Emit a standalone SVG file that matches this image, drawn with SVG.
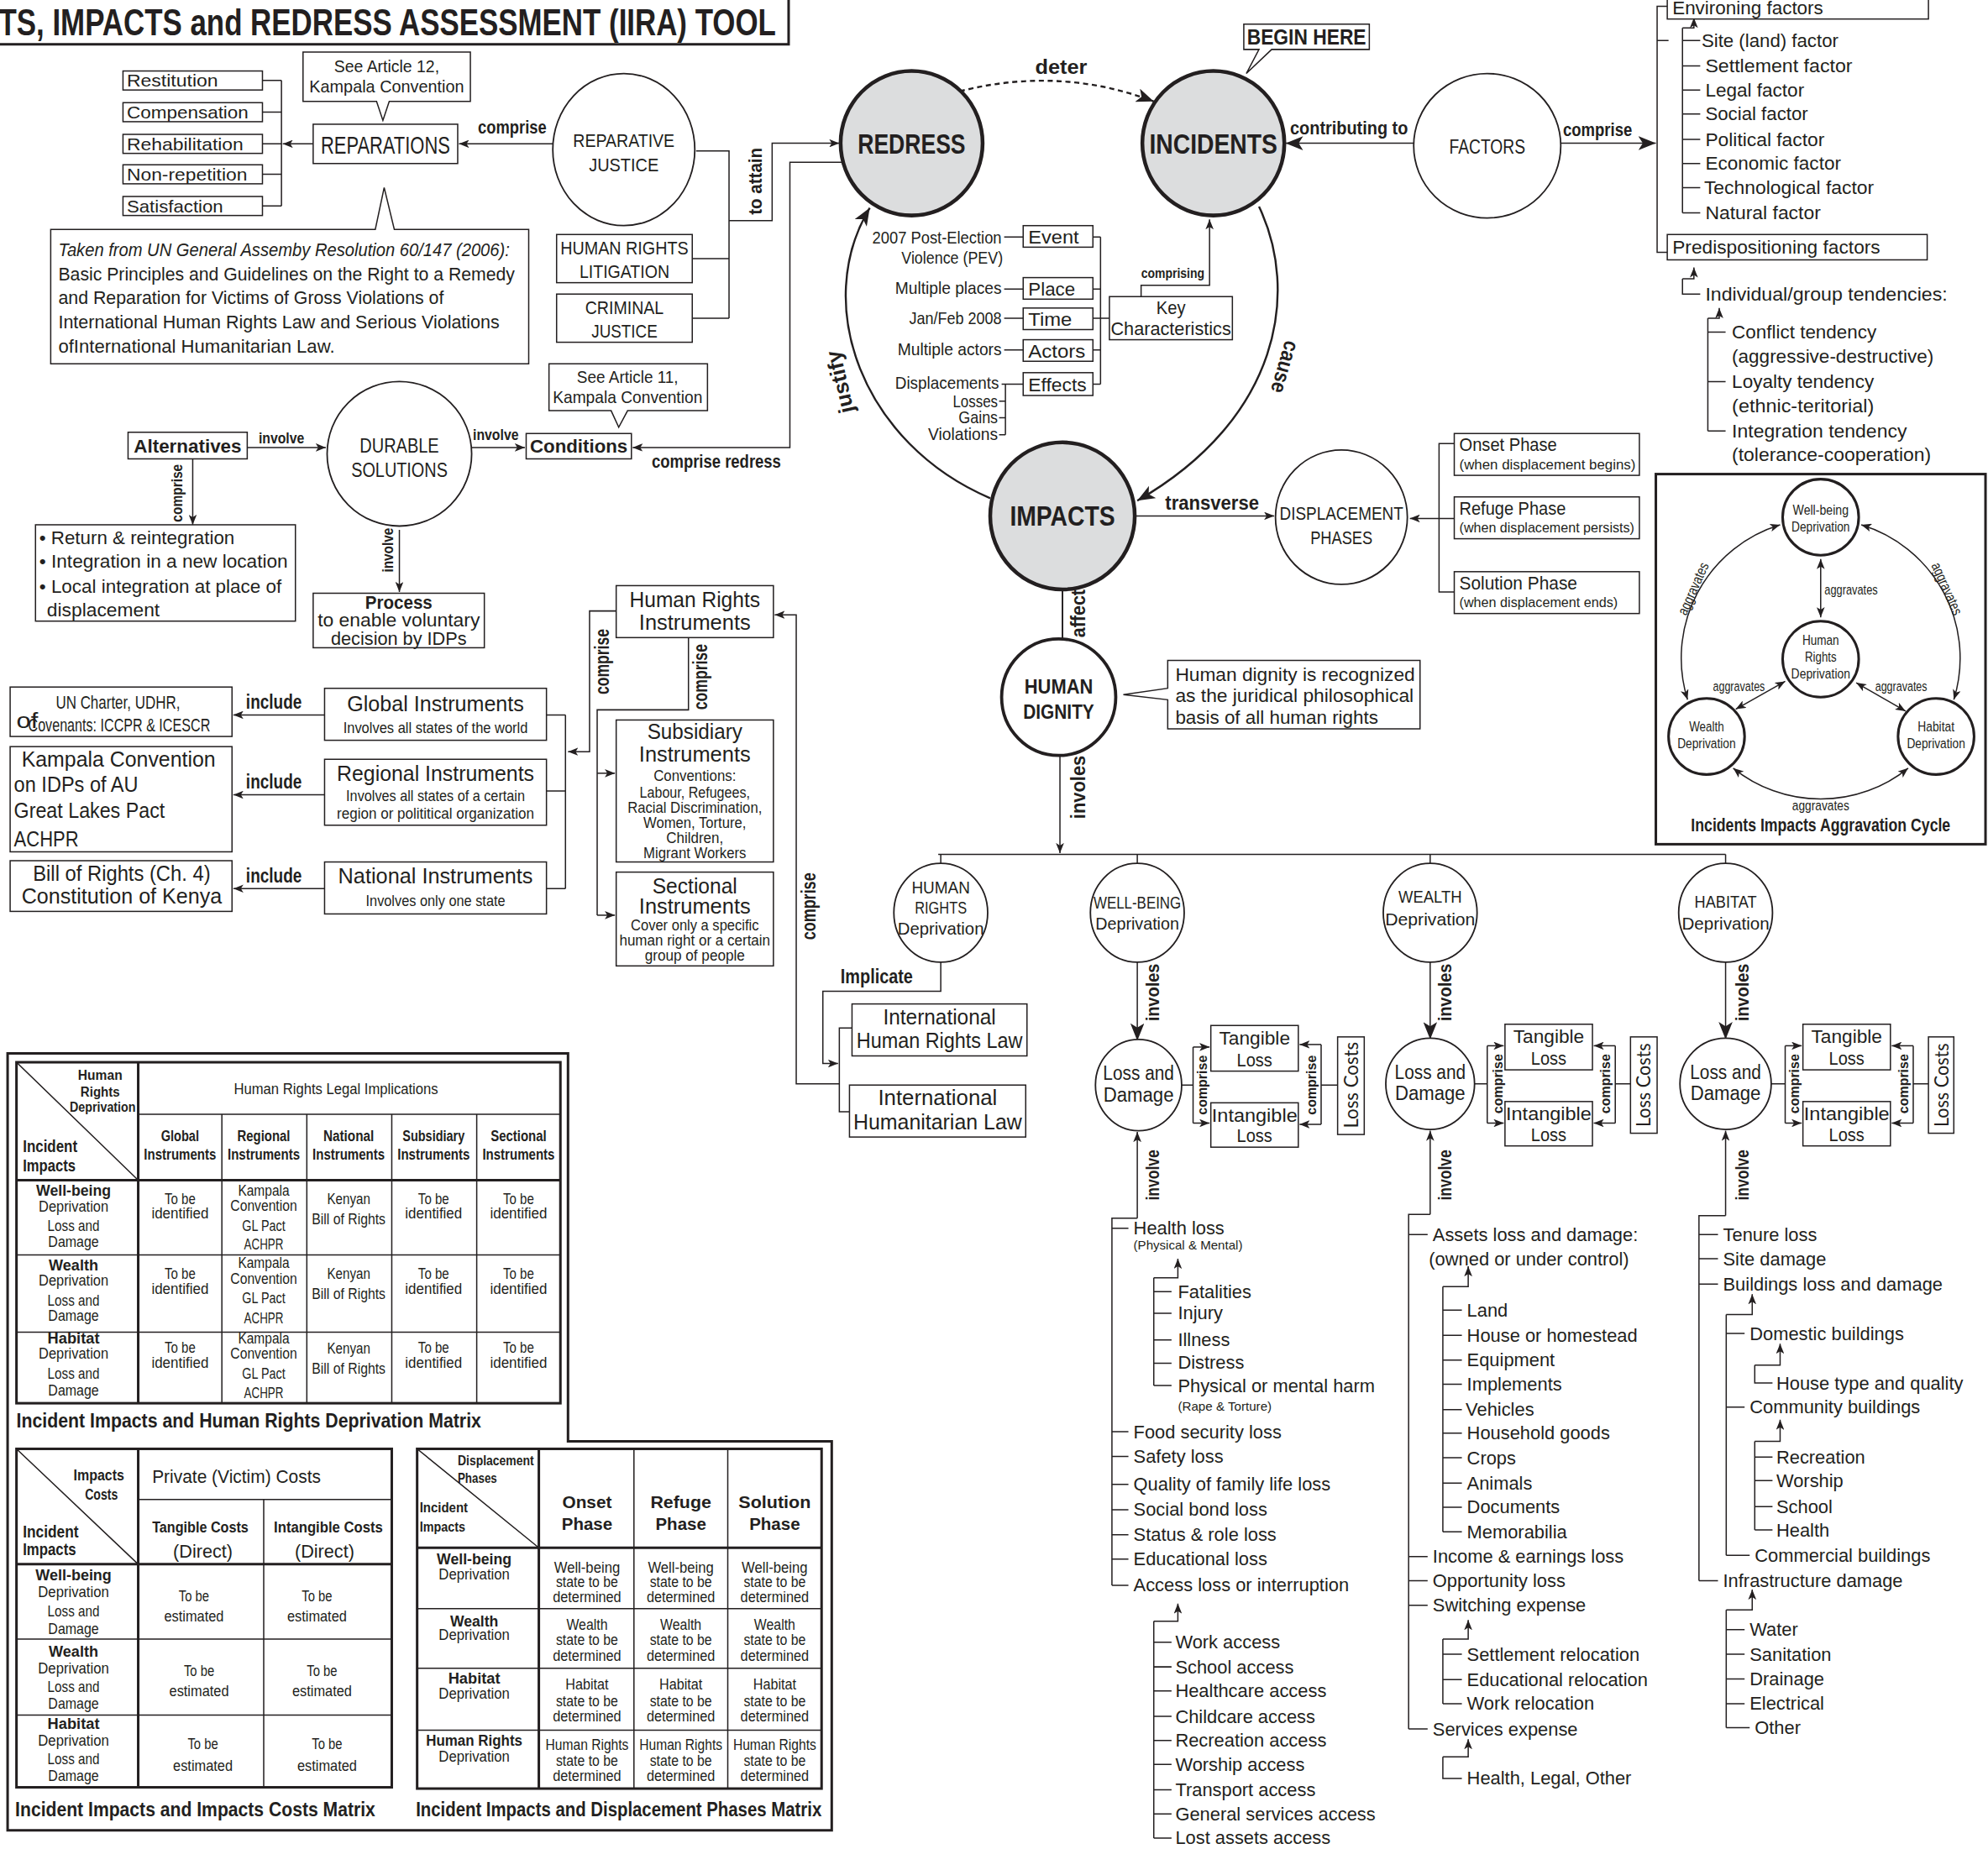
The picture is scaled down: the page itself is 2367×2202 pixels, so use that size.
<svg xmlns="http://www.w3.org/2000/svg" width="2367" height="2202" viewBox="0 0 2367 2202">
<defs>
<style>
text{font-family:'Liberation Sans',Arial,sans-serif;fill:#231f20}
.b{font-weight:bold}
.i{font-style:italic}
.m{text-anchor:middle}
.e{text-anchor:end}
.g{font-family:Lato,'Open Sans',sans-serif}
.ln{fill:none;stroke:#231f20;stroke-width:1}
.th{fill:none;stroke:#231f20;stroke-width:2}
.bx{fill:#fff;stroke:#231f20;stroke-width:1}
.nd{fill:#fff;stroke:#231f20;stroke-width:1.2}
.gr{fill:#dcddde;stroke:#231f20;stroke-width:3}
.ar{marker-end:url(#a)}
.AR{marker-end:url(#A)}
.dd{marker-start:url(#d);marker-end:url(#d)}
</style>
<marker id="a" viewBox="0 0 10 8" refX="10" refY="4" markerWidth="8" markerHeight="6.4" orient="auto" markerUnits="userSpaceOnUse"><path d="M0,0 L10,4 L0,8 L2.5,4 Z" fill="#231f20"/></marker>
<marker id="A" viewBox="0 0 10 8" refX="10" refY="4" markerWidth="14" markerHeight="11" orient="auto" markerUnits="userSpaceOnUse"><path d="M0,0 L10,4 L0,8 L2.5,4 Z" fill="#231f20"/></marker>
<marker id="d" viewBox="0 0 10 8" refX="10" refY="4" markerWidth="8" markerHeight="6.4" orient="auto-start-reverse" markerUnits="userSpaceOnUse"><path d="M0,0 L10,4 L0,8 L2.5,4 Z" fill="#231f20"/></marker>
</defs>
<rect width="2367" height="2202" fill="#fff"/>
<g transform="scale(1.5096)" font-size="14">

<g id="connectors" class="ln">
<path d="M207,63.5H222M207,88.5H222M207,113.5H222M207,137.5H222M207,162.5H222M222,63.5V162.5"/>
<path class="ar" d="M247,113.5H223"/>
<path class="ar" d="M436,113.5H362"/>
<path d="M549,119H575V251M546,204H575M546,251H575"/>
<path class="ar" d="M575,174H609V113H662"/>
<path class="ar" d="M665,128H623V353H499"/>
<path class="AR" d="M757,72Q836,52 910,80" stroke-dasharray="4,3" stroke-width="1.6"/>
<path class="AR" d="M1115,113H1014"/>
<path class="AR" d="M1231,113H1306"/>
<path d="M1315,5H1307V199H1315M1307,32H1316"/>
<path class="ar" d="M1327,22H1336V14"/>
<path d="M1327,22V168M1327,32H1341M1327,52H1341M1327,71H1341M1327,90H1341M1327,110H1341M1327,129H1341M1327,148H1341M1327,168H1341"/>
<path class="ar" d="M1327,220H1336V211"/>
<path d="M1327,220V232H1341"/>
<path class="ar" d="M1347,251H1356V243"/>
<path d="M1347,251V340M1347,262H1361M1347,301H1361M1347,340H1361"/>
<path d="M792,187H807M792,228H807M792,251H807M792,276H807M790,303H807M793,303V343M788,316.5H793M788,329.6H793M788,343H793"/>
<path d="M862,187H868M862,228H868M862,251H868M862,276H868M862,303H868M868,187V303M868,251H875"/>
<path class="ar" d="M900,234V225H954V173"/>
<path class="AR" d="M781,393C680,350 640,240 686,164" stroke-width="1.6"/>
<path class="AR" d="M993,163C1025,230 1010,330 897,395" stroke-width="1.6"/>
<path class="ar" d="M895,407H1005"/>
<path d="M1147,350H1135V467H1147M1135,409H1147"/>
<path class="ar" d="M1135,409H1112"/>
<path d="M838,465V505" stroke-width="1.3"/>
<path class="ar" d="M836,596V673"/>
<path d="M740,674H1361M742,674V681M897,674V681M1128,674V681M1361,674V681"/>
<path class="ar" d="M742,759V782H649V839H661"/>
<path d="M672,811H662V877H672"/>
<path class="ar" d="M662,855H628V485H611"/>
<path class="AR" d="M897,759V821"/>
<path class="AR" d="M1128,759V820"/>
<path class="AR" d="M1361,759V820"/>
<path d="M932,856H941M941,826V886"/>
<path class="ar" d="M941,826H954"/><path class="ar" d="M941,886H954"/>
<path d="M1055,856H1042M1042,824V887"/>
<path class="ar" d="M1042,824H1025"/><path class="ar" d="M1042,887H1025"/>
<path d="M1163,855H1173M1173,825V886"/>
<path class="ar" d="M1173,825H1186"/><path class="ar" d="M1173,886H1186"/>
<path d="M1286,855H1274M1274,825V886"/>
<path class="ar" d="M1274,825H1257"/><path class="ar" d="M1274,886H1257"/>
<path d="M1397,855H1408M1408,825V886"/>
<path class="ar" d="M1408,825H1421"/><path class="ar" d="M1408,886H1421"/>
<path d="M1521,855H1509M1509,825V886"/>
<path class="ar" d="M1509,825H1492"/><path class="ar" d="M1509,886H1492"/>
<path class="ar" d="M897,961V893"/>
<path d="M897,961H877V1250.6"/>
<path d="M877,969H890M877,1129.5H890M877,1149H890M877,1171H890M877,1191H890M877,1210.7H890M877,1230H890M877,1250.6H890"/>
<path class="ar" d="M910,1008H929V993"/>
<path d="M910,1008V1093M910,1019H924M910,1036H924M910,1057H924M910,1075.5H924M910,1093H924"/>
<path class="ar" d="M910,1279H929V1265"/>
<path d="M910,1279V1450M910,1295.5H924M910,1315H924M910,1334H924M910,1354H924M910,1373H924M910,1392H924M910,1412H924M910,1431H924M910,1450H924"/>
<path class="ar" d="M1128,958V892"/>
<path d="M1128,958H1111V1364M1111,974H1126M1111,1228H1126M1111,1247H1126M1111,1266.4H1126M1111,1364H1126"/>
<path class="ar" d="M1138,1015H1158V999"/>
<path d="M1138,1015V1208.5M1138,1033.6H1153M1138,1053.5H1153M1138,1073H1153M1138,1092H1153M1138,1112H1153M1138,1130.6H1153M1138,1150H1153M1138,1170H1153M1138,1189H1153M1138,1208.5H1153"/>
<path class="ar" d="M1138,1293H1158V1278"/>
<path d="M1138,1293V1344M1138,1305H1153M1138,1325H1153M1138,1344H1153"/>
<path class="ar" d="M1138,1386H1158V1372"/>
<path d="M1138,1386V1403H1153"/>
<path class="ar" d="M1361,959V892"/>
<path d="M1361,959H1340V1247M1340,974H1355M1340,993H1355M1340,1013H1355M1340,1247H1355"/>
<path class="ar" d="M1361.5,1037H1382V1021"/>
<path d="M1361.5,1037V1227M1361.5,1052H1376M1361.5,1110H1376M1361.5,1227H1380"/>
<path class="ar" d="M1384,1077H1404V1060"/>
<path d="M1384,1077V1091H1398"/>
<path class="ar" d="M1384,1137H1404V1120"/>
<path d="M1384,1137V1207M1384,1149.5H1398M1384,1168H1398M1384,1188.5H1398M1384,1207H1398"/>
<path class="ar" d="M1361.5,1270H1382V1254"/>
<path d="M1361.5,1270V1363M1361.5,1285.6H1376M1361.5,1305H1376M1361.5,1324.6H1376M1361.5,1344H1376M1361.5,1363H1380"/>
<path class="ar" d="M195,353H257"/>
<path class="ar" d="M372,353H414"/>
<path class="ar" d="M152,362V414"/>
<path class="ar" d="M315,418V467"/>
<path class="ar" d="M486,482H465V593H448"/>
<path d="M543,503V560H471V722"/>
<path class="ar" d="M471,610H485"/><path class="ar" d="M471,722H485"/>
<path d="M431,564H446M431,624H446M431,701H446M446,564V701"/>
<path class="ar" d="M256,564H184"/><path class="ar" d="M256,627H184"/><path class="ar" d="M256,701H184"/>
<path class="dd" d="M1436,441V487"/>
<path class="dd" d="M1408,537.5L1369,559.5"/>
<path class="dd" d="M1464,538.6L1503,561"/>
<path class="dd" d="M1404,414A110,110 0 0 0 1331,552"/>
<path class="dd" d="M1468,414A110,110 0 0 1 1541,552"/>
<path class="dd" d="M1367,606A110,110 0 0 0 1505,606"/>
</g>

<g id="title"><path class="th" d="M-5,35H622V-5"/><text x="-1" y="28" class="b" font-size="29" textLength="613" lengthAdjust="spacingAndGlyphs">TS, IMPACTS and REDRESS ASSESSMENT (IIRA) TOOL</text></g>

<g id="reparation-list" font-size="14">
<rect class="bx" x="97" y="56" width="110" height="15"/><text x="100" y="68.5" textLength="72" lengthAdjust="spacingAndGlyphs">Restitution</text>
<rect class="bx" x="97" y="81" width="110" height="15"/><text x="100" y="93.5" textLength="96" lengthAdjust="spacingAndGlyphs">Compensation</text>
<rect class="bx" x="97" y="106" width="110" height="15"/><text x="100" y="118.5" textLength="92" lengthAdjust="spacingAndGlyphs">Rehabilitation</text>
<rect class="bx" x="97" y="130" width="110" height="15"/><text x="100" y="142.5" textLength="95" lengthAdjust="spacingAndGlyphs">Non-repetition</text>
<rect class="bx" x="97" y="155" width="110" height="15"/><text x="100" y="167.5" textLength="76" lengthAdjust="spacingAndGlyphs">Satisfaction</text>
</g>
<g id="art12"><path class="bx" d="M239,41H371V80H307L302,95L297,80H239Z"/><text x="305" y="57" class="m" textLength="83" lengthAdjust="spacingAndGlyphs">See Article 12,</text><text x="305" y="73" class="m" textLength="122" lengthAdjust="spacingAndGlyphs">Kampala Convention</text></g>
<g id="reparations"><rect class="bx" x="247" y="98" width="114" height="31"/><text x="304" y="121" class="m" font-size="19" textLength="102" lengthAdjust="spacingAndGlyphs">REPARATIONS</text></g>
<text x="404" y="105" class="b m" font-size="14.5" textLength="54" lengthAdjust="spacingAndGlyphs">comprise</text>
<g id="reparative"><ellipse class="nd" cx="492" cy="118" rx="56" ry="60"/><text x="492" y="116" class="m" font-size="15" textLength="80" lengthAdjust="spacingAndGlyphs">REPARATIVE</text><text x="492" y="135" class="m" font-size="15" textLength="55" lengthAdjust="spacingAndGlyphs">JUSTICE</text></g>
<g id="resolution" font-size="14.5"><path class="bx" d="M40,181H296L303,148L311,181H417V287H40Z"/>
<text x="46" y="202" class="i" textLength="356" lengthAdjust="spacingAndGlyphs">Taken from UN General Assemby Resolution 60/147 (2006):</text>
<text x="46" y="221" textLength="360" lengthAdjust="spacingAndGlyphs">Basic Principles and Guidelines on the Right to a Remedy</text>
<text x="46" y="240" textLength="304" lengthAdjust="spacingAndGlyphs">and Reparation for Victims of Gross Violations of</text>
<text x="46" y="259" textLength="348" lengthAdjust="spacingAndGlyphs">International Human Rights Law and Serious Violations</text>
<text x="46" y="278" textLength="218" lengthAdjust="spacingAndGlyphs">ofInternational Humanitarian Law.</text></g>
<g id="hrlit" font-size="15"><rect class="bx" x="439" y="185" width="107" height="38"/><text x="492.5" y="201" class="m" textLength="101" lengthAdjust="spacingAndGlyphs">HUMAN RIGHTS</text><text x="492.5" y="219" class="m" textLength="71" lengthAdjust="spacingAndGlyphs">LITIGATION</text></g>
<g id="crim" font-size="15"><rect class="bx" x="439" y="232" width="107" height="38"/><text x="492.5" y="248" class="m" textLength="62" lengthAdjust="spacingAndGlyphs">CRIMINAL</text><text x="492.5" y="266" class="m" textLength="52" lengthAdjust="spacingAndGlyphs">JUSTICE</text></g>
<text transform="translate(601,143) rotate(-90)" class="b m" font-size="15" textLength="53" lengthAdjust="spacingAndGlyphs">to attain</text>

<g id="redress"><ellipse class="gr" cx="719" cy="113" rx="56" ry="57"/><text x="719" y="121" class="b m" font-size="22" textLength="85" lengthAdjust="spacingAndGlyphs">REDRESS</text></g>
<g id="incidents"><ellipse class="gr" cx="957" cy="113" rx="56" ry="57"/><text x="957" y="121" class="b m" font-size="22" textLength="101" lengthAdjust="spacingAndGlyphs">INCIDENTS</text></g>
<text x="837" y="58" class="b m" font-size="16" textLength="41" lengthAdjust="spacingAndGlyphs">deter</text>
<g id="begin"><path class="bx" d="M981,19H1080V39H1003L983,58L993,39H981Z"/><text x="1030.5" y="35" class="b m" font-size="17" textLength="94" lengthAdjust="spacingAndGlyphs">BEGIN HERE</text></g>
<g id="factors"><ellipse class="nd" cx="1173" cy="115" rx="58" ry="57"/><text x="1173" y="121" class="m" font-size="16" textLength="60" lengthAdjust="spacingAndGlyphs">FACTORS</text></g>
<text x="1064" y="106" class="b m" font-size="14.5" textLength="93" lengthAdjust="spacingAndGlyphs">contributing to</text>
<text x="1260" y="107" class="b m" font-size="14.5" textLength="54.5" lengthAdjust="spacingAndGlyphs">comprise</text>
<g id="factor-list" font-size="15">
<rect class="bx" x="1315" y="-5" width="206" height="20"/><text x="1319" y="11" textLength="119" lengthAdjust="spacingAndGlyphs">Environing factors</text>
<rect class="bx" x="1315" y="185" width="205" height="20"/><text x="1319" y="200" textLength="164" lengthAdjust="spacingAndGlyphs">Predispositioning factors</text>
<text x="1342" y="37" textLength="108" lengthAdjust="spacingAndGlyphs">Site (land) factor</text>
<text x="1345" y="57" textLength="116" lengthAdjust="spacingAndGlyphs">Settlement factor</text>
<text x="1345" y="76" textLength="78" lengthAdjust="spacingAndGlyphs">Legal factor</text>
<text x="1345" y="95" textLength="81" lengthAdjust="spacingAndGlyphs">Social factor</text>
<text x="1345" y="115" textLength="94" lengthAdjust="spacingAndGlyphs">Political factor</text>
<text x="1345" y="134" textLength="107" lengthAdjust="spacingAndGlyphs">Economic factor</text>
<text x="1344" y="153" textLength="134" lengthAdjust="spacingAndGlyphs">Technological factor</text>
<text x="1345" y="173" textLength="91" lengthAdjust="spacingAndGlyphs">Natural factor</text>
<text x="1345" y="237" textLength="191" lengthAdjust="spacingAndGlyphs">Individual/group tendencies:</text>
<text x="1366" y="267" textLength="114" lengthAdjust="spacingAndGlyphs">Conflict tendency</text>
<text x="1366" y="286" textLength="159" lengthAdjust="spacingAndGlyphs">(aggressive-destructive)</text>
<text x="1366" y="306" textLength="112" lengthAdjust="spacingAndGlyphs">Loyalty tendency</text>
<text x="1366" y="325" textLength="112" lengthAdjust="spacingAndGlyphs">(ethnic-teritorial)</text>
<text x="1366" y="345" textLength="138" lengthAdjust="spacingAndGlyphs">Integration tendency</text>
<text x="1366" y="364" textLength="157" lengthAdjust="spacingAndGlyphs">(tolerance-cooperation)</text>
</g>

<g id="key-labels" font-size="13.5">
<text x="790" y="192" class="e" textLength="102" lengthAdjust="spacingAndGlyphs">2007 Post-Election</text>
<text x="791" y="208" class="e" textLength="80" lengthAdjust="spacingAndGlyphs">Violence (PEV)</text>
<text x="790" y="232" class="e" textLength="84" lengthAdjust="spacingAndGlyphs">Multiple places</text>
<text x="790" y="256" class="e" textLength="73" lengthAdjust="spacingAndGlyphs">Jan/Feb 2008</text>
<text x="790" y="280" class="e" textLength="82" lengthAdjust="spacingAndGlyphs">Multiple actors</text>
<text x="788" y="307" class="e" textLength="82" lengthAdjust="spacingAndGlyphs">Displacements</text>
<text x="787" y="321" class="e" textLength="35.5" lengthAdjust="spacingAndGlyphs">Losses</text>
<text x="787" y="334" class="e" textLength="31" lengthAdjust="spacingAndGlyphs">Gains</text>
<text x="787" y="347" class="e" textLength="55" lengthAdjust="spacingAndGlyphs">Violations</text>
</g>
<g id="key-boxes" font-size="15">
<rect class="bx" x="807" y="178" width="55" height="17"/><text x="811" y="192" textLength="40" lengthAdjust="spacingAndGlyphs">Event</text>
<rect class="bx" x="807" y="219" width="55" height="17"/><text x="811" y="233" textLength="37" lengthAdjust="spacingAndGlyphs">Place</text>
<rect class="bx" x="807" y="243" width="55" height="17"/><text x="811" y="257" textLength="34.5" lengthAdjust="spacingAndGlyphs">Time</text>
<rect class="bx" x="807" y="268" width="55" height="17"/><text x="811" y="282" textLength="45" lengthAdjust="spacingAndGlyphs">Actors</text>
<rect class="bx" x="807" y="294" width="55" height="18"/><text x="811" y="309" textLength="46" lengthAdjust="spacingAndGlyphs">Effects</text>
</g>
<g id="keychar" font-size="15"><rect class="bx" x="875" y="234" width="97" height="34"/><text x="923.5" y="248" class="m" textLength="23" lengthAdjust="spacingAndGlyphs">Key</text><text x="923.5" y="264" class="m" textLength="95" lengthAdjust="spacingAndGlyphs">Characteristics</text></g>
<text x="925" y="219" class="b m" font-size="11.5" textLength="50" lengthAdjust="spacingAndGlyphs">comprising</text>
<text transform="translate(668,300) rotate(-103)" class="b m" font-size="17" textLength="50" lengthAdjust="spacingAndGlyphs">justify</text>
<text transform="translate(1008,288) rotate(106)" class="b m" font-size="17" textLength="42" lengthAdjust="spacingAndGlyphs">cause</text>

<g id="impacts"><ellipse class="gr" cx="838" cy="407" rx="57" ry="58"/><text x="838" y="415" class="b m" font-size="22" textLength="83" lengthAdjust="spacingAndGlyphs">IMPACTS</text></g>
<text x="956" y="402" class="b m" font-size="16" textLength="74" lengthAdjust="spacingAndGlyphs">transverse</text>
<g id="disp" font-size="15"><ellipse class="nd" cx="1058" cy="408" rx="52" ry="53"/><text x="1058" y="410" class="m" textLength="97.5" lengthAdjust="spacingAndGlyphs">DISPLACEMENT</text><text x="1058" y="429" class="m" textLength="49" lengthAdjust="spacingAndGlyphs">PHASES</text></g>
<g id="phases">
<rect class="bx" x="1147" y="342" width="146" height="33"/><text x="1151" y="356" font-size="14.5" textLength="77" lengthAdjust="spacingAndGlyphs">Onset Phase</text><text x="1151" y="370" font-size="11" textLength="139" lengthAdjust="spacingAndGlyphs">(when displacement begins)</text>
<rect class="bx" x="1147" y="392" width="146" height="33"/><text x="1151" y="406" font-size="14.5" textLength="84" lengthAdjust="spacingAndGlyphs">Refuge Phase</text><text x="1151" y="420" font-size="11" textLength="138" lengthAdjust="spacingAndGlyphs">(when displacement persists)</text>
<rect class="bx" x="1147" y="451" width="146" height="33"/><text x="1151" y="465" font-size="14.5" textLength="93" lengthAdjust="spacingAndGlyphs">Solution Phase</text><text x="1151" y="479" font-size="11" textLength="125" lengthAdjust="spacingAndGlyphs">(when displacement ends)</text>
</g>
<text transform="translate(856,484) rotate(-90)" class="b m" font-size="16" textLength="38" lengthAdjust="spacingAndGlyphs">affect</text>
<g id="dignity"><ellipse cx="835" cy="550" rx="45" ry="46" fill="#fff" stroke="#231f20" stroke-width="2.5"/><text x="835" y="547" class="b m" font-size="16" textLength="54" lengthAdjust="spacingAndGlyphs">HUMAN</text><text x="835" y="567" class="b m" font-size="16" textLength="56" lengthAdjust="spacingAndGlyphs">DIGNITY</text></g>
<g id="dignity-note" font-size="15"><path class="bx" d="M921,521H1120V575H921V552L886,548L921,543Z"/><text x="927" y="537" textLength="189" lengthAdjust="spacingAndGlyphs">Human dignity is recognized</text><text x="927" y="554" textLength="188" lengthAdjust="spacingAndGlyphs">as the juridical philosophical</text><text x="927" y="571" textLength="160" lengthAdjust="spacingAndGlyphs">basis of all human rights</text></g>
<text transform="translate(856,621) rotate(-90)" class="b m" font-size="16" textLength="50" lengthAdjust="spacingAndGlyphs">involes</text>

<g id="hr-dep"><ellipse class="nd" cx="742" cy="720" rx="37" ry="39"/><text x="742" y="705" class="m" textLength="46" lengthAdjust="spacingAndGlyphs">HUMAN</text><text x="742" y="721" class="m" textLength="41" lengthAdjust="spacingAndGlyphs">RIGHTS</text><text x="742" y="737" class="m" textLength="68" lengthAdjust="spacingAndGlyphs">Deprivation</text></g>
<g id="wb-dep"><ellipse class="nd" cx="897" cy="720" rx="37" ry="39"/><text x="897" y="717" class="m" textLength="69" lengthAdjust="spacingAndGlyphs">WELL-BEING</text><text x="897" y="733" class="m" textLength="66" lengthAdjust="spacingAndGlyphs">Deprivation</text></g>
<g id="we-dep"><ellipse class="nd" cx="1128" cy="720" rx="37" ry="39"/><text x="1128" y="712" class="m" textLength="50" lengthAdjust="spacingAndGlyphs">WEALTH</text><text x="1128" y="730" class="m" textLength="71" lengthAdjust="spacingAndGlyphs">Deprivation</text></g>
<g id="ha-dep"><ellipse class="nd" cx="1361" cy="720" rx="37" ry="39"/><text x="1361" y="716" class="m" textLength="49" lengthAdjust="spacingAndGlyphs">HABITAT</text><text x="1361" y="733" class="m" textLength="69" lengthAdjust="spacingAndGlyphs">Deprivation</text></g>

<text x="663" y="776" class="b" font-size="16" textLength="57" lengthAdjust="spacingAndGlyphs">Implicate</text>
<g id="ihrl" font-size="16.5"><rect class="bx" x="672" y="792" width="138" height="41"/><text x="741" y="808" class="m" textLength="89" lengthAdjust="spacingAndGlyphs">International</text><text x="741" y="827" class="m" textLength="131" lengthAdjust="spacingAndGlyphs">Human Rights Law</text></g>
<g id="ihl" font-size="16.5"><rect class="bx" x="670" y="856" width="139" height="41"/><text x="739.5" y="872" class="m" textLength="94" lengthAdjust="spacingAndGlyphs">International</text><text x="739.5" y="891" class="m" textLength="133" lengthAdjust="spacingAndGlyphs">Humanitarian Law</text></g>
<text transform="translate(643,715) rotate(-90)" class="b m" font-size="16" textLength="53" lengthAdjust="spacingAndGlyphs">comprise</text>

<g id="wb-loss" font-size="15">
<ellipse class="nd" cx="898" cy="856" rx="34" ry="36"/><text x="898" y="852" class="m" font-size="15.5" textLength="56" lengthAdjust="spacingAndGlyphs">Loss and</text><text x="898" y="869" class="m" font-size="15.5" textLength="55.5" lengthAdjust="spacingAndGlyphs">Damage</text>
<rect class="bx" x="955" y="809" width="69" height="36"/><text x="989.5" y="824" class="m" textLength="56" lengthAdjust="spacingAndGlyphs">Tangible</text><text x="989.5" y="841" class="m" textLength="28" lengthAdjust="spacingAndGlyphs">Loss</text>
<rect class="bx" x="955" y="870" width="69" height="35"/><text x="989.5" y="885" class="m" textLength="67.5" lengthAdjust="spacingAndGlyphs">Intangible</text><text x="989.5" y="901" class="m" textLength="28" lengthAdjust="spacingAndGlyphs">Loss</text>
<rect class="bx" x="1055" y="818" width="21" height="77"/><text transform="translate(1071,856) rotate(-90)" class="m g" textLength="68" lengthAdjust="spacingAndGlyphs">Loss Costs</text>
</g>
<g id="we-loss" font-size="15">
<ellipse class="nd" cx="1128" cy="855" rx="35" ry="36"/><text x="1128" y="851" class="m" font-size="15.5" textLength="56" lengthAdjust="spacingAndGlyphs">Loss and</text><text x="1128" y="868" class="m" font-size="15.5" textLength="55.5" lengthAdjust="spacingAndGlyphs">Damage</text>
<rect class="bx" x="1187" y="808" width="69" height="36"/><text x="1221.5" y="823" class="m" textLength="56" lengthAdjust="spacingAndGlyphs">Tangible</text><text x="1221.5" y="840" class="m" textLength="28" lengthAdjust="spacingAndGlyphs">Loss</text>
<rect class="bx" x="1187" y="869" width="69" height="35"/><text x="1221.5" y="884" class="m" textLength="67.5" lengthAdjust="spacingAndGlyphs">Intangible</text><text x="1221.5" y="900" class="m" textLength="28" lengthAdjust="spacingAndGlyphs">Loss</text>
<rect class="bx" x="1286" y="818" width="21" height="76"/><text transform="translate(1302,856) rotate(-90)" class="m g" textLength="66" lengthAdjust="spacingAndGlyphs">Loss Costs</text>
</g>
<g id="ha-loss" font-size="15">
<ellipse class="nd" cx="1361" cy="855" rx="36" ry="36"/><text x="1361" y="851" class="m" font-size="15.5" textLength="56" lengthAdjust="spacingAndGlyphs">Loss and</text><text x="1361" y="868" class="m" font-size="15.5" textLength="55.5" lengthAdjust="spacingAndGlyphs">Damage</text>
<rect class="bx" x="1422" y="808" width="69" height="36"/><text x="1456.5" y="823" class="m" textLength="56" lengthAdjust="spacingAndGlyphs">Tangible</text><text x="1456.5" y="840" class="m" textLength="28" lengthAdjust="spacingAndGlyphs">Loss</text>
<rect class="bx" x="1422" y="869" width="69" height="35"/><text x="1456.5" y="884" class="m" textLength="67.5" lengthAdjust="spacingAndGlyphs">Intangible</text><text x="1456.5" y="900" class="m" textLength="28" lengthAdjust="spacingAndGlyphs">Loss</text>
<rect class="bx" x="1521" y="818" width="20" height="76"/><text transform="translate(1537,856) rotate(-90)" class="m g" textLength="66" lengthAdjust="spacingAndGlyphs">Loss Costs</text>
</g>
<g id="vlabels" class="b m">
<text transform="translate(914,783) rotate(-90)" font-size="15" textLength="45.5" lengthAdjust="spacingAndGlyphs">involes</text>
<text transform="translate(914,927) rotate(-90)" font-size="15" textLength="40" lengthAdjust="spacingAndGlyphs">involve</text>
<text transform="translate(1145,783) rotate(-90)" font-size="15" textLength="45.5" lengthAdjust="spacingAndGlyphs">involes</text>
<text transform="translate(1145,927) rotate(-90)" font-size="15" textLength="40" lengthAdjust="spacingAndGlyphs">involve</text>
<text transform="translate(1379,783) rotate(-90)" font-size="15" textLength="45.5" lengthAdjust="spacingAndGlyphs">involes</text>
<text transform="translate(1379,927) rotate(-90)" font-size="15" textLength="40" lengthAdjust="spacingAndGlyphs">involve</text>
<text transform="translate(952,856) rotate(-90)" font-size="11.5" textLength="47" lengthAdjust="spacingAndGlyphs">comprise</text>
<text transform="translate(1038,856) rotate(-90)" font-size="11.5" textLength="47" lengthAdjust="spacingAndGlyphs">comprise</text>
<text transform="translate(1185,855) rotate(-90)" font-size="11.5" textLength="47" lengthAdjust="spacingAndGlyphs">comprise</text>
<text transform="translate(1270,855) rotate(-90)" font-size="11.5" textLength="47" lengthAdjust="spacingAndGlyphs">comprise</text>
<text transform="translate(1419,855) rotate(-90)" font-size="11.5" textLength="47" lengthAdjust="spacingAndGlyphs">comprise</text>
<text transform="translate(1505,855) rotate(-90)" font-size="11.5" textLength="47" lengthAdjust="spacingAndGlyphs">comprise</text>
</g>

<g id="wb-list" class="g" font-size="14.5">
<text x="894" y="974">Health loss</text>
<text x="894" y="986" font-size="9.5" textLength="86" lengthAdjust="spacingAndGlyphs">(Physical &amp; Mental)</text>
<text x="929" y="1024">Fatalities</text>
<text x="929" y="1041">Injury</text>
<text x="929" y="1062">Illness</text>
<text x="929" y="1080">Distress</text>
<text x="929" y="1098">Physical or mental harm</text>
<text x="929" y="1113" font-size="9.5" textLength="74" lengthAdjust="spacingAndGlyphs">(Rape &amp; Torture)</text>
<text x="894" y="1134.5">Food security loss</text>
<text x="894" y="1154">Safety loss</text>
<text x="894" y="1176">Quality of family life loss</text>
<text x="894" y="1196">Social bond loss</text>
<text x="894" y="1215.7">Status &amp; role loss</text>
<text x="894" y="1235">Educational loss</text>
<text x="894" y="1255.6">Access loss or interruption</text>
<text x="927" y="1300.5">Work access</text>
<text x="927" y="1320">School access</text>
<text x="927" y="1339">Healthcare access</text>
<text x="927" y="1359">Childcare access</text>
<text x="927" y="1378">Recreation access</text>
<text x="927" y="1397">Worship access</text>
<text x="927" y="1417">Transport access</text>
<text x="927" y="1436">General services access</text>
<text x="927" y="1455">Lost assets access</text>
</g>
<g id="we-list" class="g" font-size="14.5">
<text x="1130" y="979">Assets loss and damage:</text>
<text x="1127" y="998">(owned or under control)</text>
<text x="1157" y="1038.6">Land</text>
<text x="1157" y="1058.5">House or homestead</text>
<text x="1157" y="1078">Equipment</text>
<text x="1157" y="1097">Implements</text>
<text x="1156" y="1117">Vehicles</text>
<text x="1157" y="1135.6">Household goods</text>
<text x="1157" y="1155">Crops</text>
<text x="1157" y="1175">Animals</text>
<text x="1157" y="1194">Documents</text>
<text x="1157" y="1213.5">Memorabilia</text>
<text x="1130" y="1233">Income &amp; earnings loss</text>
<text x="1130" y="1252">Opportunity loss</text>
<text x="1130" y="1271.4">Switching expense</text>
<text x="1157" y="1310">Settlement relocation</text>
<text x="1157" y="1330">Educational relocation</text>
<text x="1157" y="1349">Work relocation</text>
<text x="1130" y="1369">Services expense</text>
<text x="1157" y="1407.6">Health, Legal, Other</text>
</g>
<g id="ha-list" class="g" font-size="14.5">
<text x="1359" y="979">Tenure loss</text>
<text x="1359" y="998">Site damage</text>
<text x="1359" y="1018">Buildings loss and damage</text>
<text x="1380" y="1057">Domestic buildings</text>
<text x="1401" y="1096">House type and quality</text>
<text x="1380" y="1115">Community buildings</text>
<text x="1401" y="1154.5">Recreation</text>
<text x="1401" y="1173">Worship</text>
<text x="1401" y="1193.5">School</text>
<text x="1401" y="1212">Health</text>
<text x="1384" y="1232">Commercial buildings</text>
<text x="1359" y="1252">Infrastructure damage</text>
<text x="1380" y="1290.6">Water</text>
<text x="1380" y="1310">Sanitation</text>
<text x="1380" y="1329.6">Drainage</text>
<text x="1380" y="1349">Electrical</text>
<text x="1384" y="1368">Other</text>
</g>

<g id="durable" font-size="15.5"><ellipse class="nd" cx="315" cy="358" rx="57" ry="57"/><text x="315" y="357" class="m" textLength="62.5" lengthAdjust="spacingAndGlyphs">DURABLE</text><text x="315" y="376" class="m" textLength="76" lengthAdjust="spacingAndGlyphs">SOLUTIONS</text></g>
<g id="alternatives"><rect class="bx" x="101" y="341" width="94" height="21"/><text x="148" y="357" class="b m" font-size="15" textLength="85" lengthAdjust="spacingAndGlyphs">Alternatives</text></g>
<g id="conditions"><rect class="bx" x="415" y="342" width="83" height="20"/><text x="456.5" y="357" class="b m" font-size="15" textLength="77" lengthAdjust="spacingAndGlyphs">Conditions</text></g>
<text x="222" y="350" class="b m" font-size="12" textLength="36" lengthAdjust="spacingAndGlyphs">involve</text>
<text x="391" y="347" class="b m" font-size="12" textLength="36" lengthAdjust="spacingAndGlyphs">involve</text>
<text x="565" y="369" class="b m" font-size="15" textLength="102" lengthAdjust="spacingAndGlyphs">comprise redress</text>
<g id="art11"><path class="bx" d="M433,287H558V324H495L488,337L482,324H433Z"/><text x="495" y="302" class="m" textLength="80" lengthAdjust="spacingAndGlyphs">See Article 11,</text><text x="495" y="318" class="m" textLength="118" lengthAdjust="spacingAndGlyphs">Kampala Convention</text></g>
<text transform="translate(144,389) rotate(-90)" class="b m" font-size="12" textLength="45.6" lengthAdjust="spacingAndGlyphs">comprise</text>
<g id="alt-list" font-size="15"><rect class="bx" x="28" y="414" width="205" height="76"/>
<text x="31" y="429" textLength="154" lengthAdjust="spacingAndGlyphs">• Return &amp; reintegration</text>
<text x="31" y="448" textLength="196" lengthAdjust="spacingAndGlyphs">• Integration in a new location</text>
<text x="31" y="468" textLength="191" lengthAdjust="spacingAndGlyphs">• Local integration at place of</text>
<text x="37" y="486" textLength="89" lengthAdjust="spacingAndGlyphs">displacement</text></g>
<text transform="translate(310,434) rotate(-90)" class="b m" font-size="12" textLength="35" lengthAdjust="spacingAndGlyphs">involve</text>
<g id="process" font-size="15"><rect class="bx" x="247" y="468" width="135" height="43"/><text x="314.5" y="480" class="b m" textLength="53" lengthAdjust="spacingAndGlyphs">Process</text><text x="314.5" y="494" class="m" textLength="128" lengthAdjust="spacingAndGlyphs">to enable voluntary</text><text x="314.5" y="509" class="m" textLength="107" lengthAdjust="spacingAndGlyphs">decision by IDPs</text></g>

<g id="hri" font-size="16.5"><rect class="bx" x="486" y="462" width="124" height="41"/><text x="548" y="479" class="m" textLength="103" lengthAdjust="spacingAndGlyphs">Human Rights</text><text x="548" y="497" class="m" textLength="88" lengthAdjust="spacingAndGlyphs">Instruments</text></g>
<text transform="translate(480,522) rotate(-90)" class="b m" font-size="15.5" textLength="51.7" lengthAdjust="spacingAndGlyphs">comprise</text>
<text transform="translate(558,534) rotate(-90)" class="b m" font-size="15.5" textLength="51.7" lengthAdjust="spacingAndGlyphs">comprise</text>
<g id="global"><rect class="bx" x="256" y="543" width="175" height="41"/><text x="343.5" y="561" class="m" font-size="16.5" textLength="139.5" lengthAdjust="spacingAndGlyphs">Global Instruments</text><text x="343.5" y="578" class="m" font-size="12.5" textLength="145.6" lengthAdjust="spacingAndGlyphs">Involves all states of the world</text></g>
<g id="regional"><rect class="bx" x="256" y="599" width="175" height="52"/><text x="343.5" y="616" class="m" font-size="16.5" textLength="155.6" lengthAdjust="spacingAndGlyphs">Regional Instruments</text><text x="343.5" y="632" class="m" font-size="12.5" textLength="141" lengthAdjust="spacingAndGlyphs">Involves all states of a certain</text><text x="343.5" y="646" class="m" font-size="12.5" textLength="155.6" lengthAdjust="spacingAndGlyphs">region or polititical organization</text></g>
<g id="national"><rect class="bx" x="256" y="680" width="175" height="41"/><text x="343.5" y="697" class="m" font-size="16.5" textLength="153.6" lengthAdjust="spacingAndGlyphs">National Instruments</text><text x="343.5" y="715" class="m" font-size="12.5" textLength="110" lengthAdjust="spacingAndGlyphs">Involves only one state</text></g>
<g class="b m" font-size="15.5"><text x="216" y="559" textLength="44" lengthAdjust="spacingAndGlyphs">include</text><text x="216" y="622" textLength="44" lengthAdjust="spacingAndGlyphs">include</text><text x="216" y="696" textLength="44" lengthAdjust="spacingAndGlyphs">include</text></g>
<g id="un" font-size="14.5"><rect class="bx" x="8" y="542" width="175" height="39"/><text x="93" y="559" class="m" textLength="98" lengthAdjust="spacingAndGlyphs">UN Charter, UDHR,</text><text x="13" y="574" font-size="17" textLength="17" lengthAdjust="spacingAndGlyphs">of</text><text x="94" y="577" class="m" textLength="143.6" lengthAdjust="spacingAndGlyphs">Covenants: ICCPR &amp; ICESCR</text></g>
<g id="kampala" font-size="17.5"><rect class="bx" x="8" y="589" width="175" height="83"/><text x="17" y="605" textLength="153" lengthAdjust="spacingAndGlyphs">Kampala Convention</text><text x="11" y="625" textLength="98" lengthAdjust="spacingAndGlyphs">on IDPs of AU</text><text x="11" y="645" textLength="119" lengthAdjust="spacingAndGlyphs">Great Lakes Pact</text><text x="11" y="668" textLength="51" lengthAdjust="spacingAndGlyphs">ACHPR</text></g>
<g id="bill" font-size="17.5"><rect class="bx" x="8" y="679" width="175" height="40"/><text x="96" y="695" class="m" textLength="140" lengthAdjust="spacingAndGlyphs">Bill of Rights (Ch. 4)</text><text x="96" y="713" class="m" textLength="158" lengthAdjust="spacingAndGlyphs">Constitution of Kenya</text></g>
<g id="subsidiary"><rect class="bx" x="486" y="568" width="124" height="112"/><text x="548" y="583" class="m" font-size="16.5" textLength="75" lengthAdjust="spacingAndGlyphs">Subsidiary</text><text x="548" y="601" class="m" font-size="16.5" textLength="88" lengthAdjust="spacingAndGlyphs">Instruments</text>
<g class="m" font-size="12"><text x="548" y="616" textLength="65" lengthAdjust="spacingAndGlyphs">Conventions:</text><text x="548" y="629" textLength="87" lengthAdjust="spacingAndGlyphs">Labour, Refugees,</text><text x="548" y="641" textLength="106" lengthAdjust="spacingAndGlyphs">Racial Discrimination,</text><text x="548" y="653" textLength="81" lengthAdjust="spacingAndGlyphs">Women, Torture,</text><text x="548" y="665" textLength="45" lengthAdjust="spacingAndGlyphs">Children,</text><text x="548" y="677" textLength="81" lengthAdjust="spacingAndGlyphs">Migrant Workers</text></g></g>
<g id="sectional"><rect class="bx" x="486" y="688" width="124" height="74"/><text x="548" y="705" class="m" font-size="16.5" textLength="67" lengthAdjust="spacingAndGlyphs">Sectional</text><text x="548" y="721" class="m" font-size="16.5" textLength="88" lengthAdjust="spacingAndGlyphs">Instruments</text>
<g class="m" font-size="12"><text x="548" y="734" textLength="101" lengthAdjust="spacingAndGlyphs">Cover only a specific</text><text x="548" y="746" textLength="119" lengthAdjust="spacingAndGlyphs">human right or a certain</text><text x="548" y="758" textLength="79" lengthAdjust="spacingAndGlyphs">group of people</text></g></g>

<g id="cycle">
<rect x="1306" y="374" width="260" height="292" class="th"/>
<g fill="#fff" stroke="#231f20" stroke-width="2"><circle cx="1436" cy="408" r="30"/><circle cx="1436" cy="520" r="30"/><circle cx="1346" cy="581" r="30"/><circle cx="1527" cy="581" r="30"/></g>
<g class="m" font-size="11.5"><text x="1436" y="406" textLength="44" lengthAdjust="spacingAndGlyphs">Well-being</text><text x="1436" y="419" textLength="46" lengthAdjust="spacingAndGlyphs">Deprivation</text>
<text x="1436" y="508.5" textLength="29" lengthAdjust="spacingAndGlyphs">Human</text><text x="1436" y="521.7" textLength="25" lengthAdjust="spacingAndGlyphs">Rights</text><text x="1436" y="535" textLength="46.6" lengthAdjust="spacingAndGlyphs">Deprivation</text>
<text x="1346" y="577" textLength="27.5" lengthAdjust="spacingAndGlyphs">Wealth</text><text x="1346" y="590" textLength="46" lengthAdjust="spacingAndGlyphs">Deprivation</text>
<text x="1527" y="577" textLength="29" lengthAdjust="spacingAndGlyphs">Habitat</text><text x="1527" y="590" textLength="46" lengthAdjust="spacingAndGlyphs">Deprivation</text></g>
<g font-size="11.5"><text x="1439" y="469" textLength="42" lengthAdjust="spacingAndGlyphs">aggravates</text><text x="1351" y="545" textLength="41" lengthAdjust="spacingAndGlyphs">aggravates</text><text x="1479" y="545" textLength="41" lengthAdjust="spacingAndGlyphs">aggravates</text>
<text x="1436" y="639" class="m" textLength="45" lengthAdjust="spacingAndGlyphs">aggravates</text>
<text transform="translate(1339,466) rotate(-66)" class="m" textLength="44" lengthAdjust="spacingAndGlyphs">aggravates</text>
<text transform="translate(1532,466) rotate(66)" class="m" textLength="44" lengthAdjust="spacingAndGlyphs">aggravates</text></g>
<text x="1436" y="656" class="b m" font-size="14.5" textLength="204.6" lengthAdjust="spacingAndGlyphs">Incidents Impacts Aggravation Cycle</text>
</g>

<g id="matrices">
<path class="th" d="M6,831H448V1137H656V1444H6Z"/>
<g id="matrix1">
<rect x="13" y="838" width="429" height="269" class="th"/>
<path class="th" d="M109,838V1107M13,931H442"/>
<path class="ln" d="M109,879H442M13,990H442M13,1051H442M175,879V1107M242,879V1107M309,879V1107M376,879V1107M13,838L109,931"/>
<g class="b m" font-size="11.5"><text x="79" y="852" textLength="35" lengthAdjust="spacingAndGlyphs">Human</text><text x="79" y="865" textLength="31" lengthAdjust="spacingAndGlyphs">Rights</text><text x="81" y="877" textLength="52" lengthAdjust="spacingAndGlyphs">Deprivation</text></g>
<g class="b" font-size="13"><text x="18" y="909" textLength="43" lengthAdjust="spacingAndGlyphs">Incident</text><text x="18" y="924" textLength="41.6" lengthAdjust="spacingAndGlyphs">Impacts</text></g>
<text x="265" y="863" class="m" font-size="12" textLength="161" lengthAdjust="spacingAndGlyphs">Human Rights Legal Implications</text>
<g class="b m" font-size="12"><text x="142" y="900" textLength="30" lengthAdjust="spacingAndGlyphs">Global</text><text x="142" y="915" textLength="57" lengthAdjust="spacingAndGlyphs">Instruments</text><text x="208" y="900" textLength="41.6" lengthAdjust="spacingAndGlyphs">Regional</text><text x="208" y="915" textLength="57" lengthAdjust="spacingAndGlyphs">Instruments</text><text x="275" y="900" textLength="40" lengthAdjust="spacingAndGlyphs">National</text><text x="275" y="915" textLength="57" lengthAdjust="spacingAndGlyphs">Instruments</text><text x="342" y="900" textLength="49" lengthAdjust="spacingAndGlyphs">Subsidiary</text><text x="342" y="915" textLength="57" lengthAdjust="spacingAndGlyphs">Instruments</text><text x="409" y="900" textLength="44" lengthAdjust="spacingAndGlyphs">Sectional</text><text x="409" y="915" textLength="57" lengthAdjust="spacingAndGlyphs">Instruments</text></g>
<g class="m" font-size="12">
<text x="58" y="943" class="b" font-size="12.5" textLength="59" lengthAdjust="spacingAndGlyphs">Well-being</text><text x="58" y="956" textLength="55" lengthAdjust="spacingAndGlyphs">Deprivation</text><text x="58" y="971" textLength="41" lengthAdjust="spacingAndGlyphs">Loss and</text><text x="58" y="984" textLength="40" lengthAdjust="spacingAndGlyphs">Damage</text>
<text x="58" y="1002" class="b" font-size="12.5" textLength="39" lengthAdjust="spacingAndGlyphs">Wealth</text><text x="58" y="1014" textLength="55" lengthAdjust="spacingAndGlyphs">Deprivation</text><text x="58" y="1030" textLength="41" lengthAdjust="spacingAndGlyphs">Loss and</text><text x="58" y="1042" textLength="40" lengthAdjust="spacingAndGlyphs">Damage</text>
<text x="58" y="1060" class="b" font-size="12.5" textLength="41" lengthAdjust="spacingAndGlyphs">Habitat</text><text x="58" y="1072" textLength="55" lengthAdjust="spacingAndGlyphs">Deprivation</text><text x="58" y="1088" textLength="41" lengthAdjust="spacingAndGlyphs">Loss and</text><text x="58" y="1101" textLength="40" lengthAdjust="spacingAndGlyphs">Damage</text>
<text x="142" y="950" textLength="24.4" lengthAdjust="spacingAndGlyphs">To be</text><text x="142" y="961" textLength="45" lengthAdjust="spacingAndGlyphs">identified</text><text x="342" y="950" textLength="24.4" lengthAdjust="spacingAndGlyphs">To be</text><text x="342" y="961" textLength="45" lengthAdjust="spacingAndGlyphs">identified</text><text x="409" y="950" textLength="24.4" lengthAdjust="spacingAndGlyphs">To be</text><text x="409" y="961" textLength="45" lengthAdjust="spacingAndGlyphs">identified</text>
<text x="142" y="1009" textLength="24.4" lengthAdjust="spacingAndGlyphs">To be</text><text x="142" y="1021" textLength="45" lengthAdjust="spacingAndGlyphs">identified</text><text x="342" y="1009" textLength="24.4" lengthAdjust="spacingAndGlyphs">To be</text><text x="342" y="1021" textLength="45" lengthAdjust="spacingAndGlyphs">identified</text><text x="409" y="1009" textLength="24.4" lengthAdjust="spacingAndGlyphs">To be</text><text x="409" y="1021" textLength="45" lengthAdjust="spacingAndGlyphs">identified</text>
<text x="142" y="1067" textLength="24.4" lengthAdjust="spacingAndGlyphs">To be</text><text x="142" y="1079" textLength="45" lengthAdjust="spacingAndGlyphs">identified</text><text x="342" y="1067" textLength="24.4" lengthAdjust="spacingAndGlyphs">To be</text><text x="342" y="1079" textLength="45" lengthAdjust="spacingAndGlyphs">identified</text><text x="409" y="1067" textLength="24.4" lengthAdjust="spacingAndGlyphs">To be</text><text x="409" y="1079" textLength="45" lengthAdjust="spacingAndGlyphs">identified</text>
<text x="208" y="943" textLength="40.5" lengthAdjust="spacingAndGlyphs">Kampala</text><text x="208" y="955" textLength="52.5" lengthAdjust="spacingAndGlyphs">Convention</text><text x="208" y="971" textLength="34" lengthAdjust="spacingAndGlyphs">GL Pact</text><text x="208" y="986" textLength="31" lengthAdjust="spacingAndGlyphs">ACHPR</text>
<text x="208" y="1000" textLength="40.5" lengthAdjust="spacingAndGlyphs">Kampala</text><text x="208" y="1013" textLength="52.5" lengthAdjust="spacingAndGlyphs">Convention</text><text x="208" y="1028" textLength="34" lengthAdjust="spacingAndGlyphs">GL Pact</text><text x="208" y="1044" textLength="31" lengthAdjust="spacingAndGlyphs">ACHPR</text>
<text x="208" y="1060" textLength="40.5" lengthAdjust="spacingAndGlyphs">Kampala</text><text x="208" y="1072" textLength="52.5" lengthAdjust="spacingAndGlyphs">Convention</text><text x="208" y="1088" textLength="34" lengthAdjust="spacingAndGlyphs">GL Pact</text><text x="208" y="1103" textLength="31" lengthAdjust="spacingAndGlyphs">ACHPR</text>
<text x="275" y="950" textLength="34" lengthAdjust="spacingAndGlyphs">Kenyan</text><text x="275" y="966" textLength="58" lengthAdjust="spacingAndGlyphs">Bill of Rights</text>
<text x="275" y="1009" textLength="34" lengthAdjust="spacingAndGlyphs">Kenyan</text><text x="275" y="1025" textLength="58" lengthAdjust="spacingAndGlyphs">Bill of Rights</text>
<text x="275" y="1068" textLength="34" lengthAdjust="spacingAndGlyphs">Kenyan</text><text x="275" y="1084" textLength="58" lengthAdjust="spacingAndGlyphs">Bill of Rights</text>
</g>
<text x="13" y="1126" class="b" font-size="15.5" textLength="366.5" lengthAdjust="spacingAndGlyphs">Incident Impacts and Human Rights Deprivation Matrix</text>
</g>
<g id="matrix2">
<rect x="13" y="1143" width="296" height="267" class="th"/>
<path class="th" d="M109,1143V1410M13,1234H309"/>
<path class="ln" d="M109,1183H309M13,1293H309M13,1353H309M208,1183V1410M13,1143L109,1234"/>
<g class="b m" font-size="12"><text x="78" y="1168" textLength="40" lengthAdjust="spacingAndGlyphs">Impacts</text><text x="80" y="1183" textLength="26" lengthAdjust="spacingAndGlyphs">Costs</text></g>
<g class="b" font-size="13"><text x="18" y="1213" textLength="44" lengthAdjust="spacingAndGlyphs">Incident</text><text x="18" y="1227" textLength="42" lengthAdjust="spacingAndGlyphs">Impacts</text></g>
<text x="120" y="1170" font-size="15" textLength="133" lengthAdjust="spacingAndGlyphs">Private (Victim) Costs</text>
<g class="b m" font-size="12.5"><text x="158" y="1209" textLength="76" lengthAdjust="spacingAndGlyphs">Tangible Costs</text><text x="259" y="1209" textLength="86" lengthAdjust="spacingAndGlyphs">Intangible Costs</text></g>
<g class="m" font-size="14.5"><text x="160" y="1229" textLength="47" lengthAdjust="spacingAndGlyphs">(Direct)</text><text x="256" y="1229" textLength="47" lengthAdjust="spacingAndGlyphs">(Direct)</text></g>
<g class="m" font-size="12.5">
<text x="58" y="1247" class="b" textLength="60" lengthAdjust="spacingAndGlyphs">Well-being</text><text x="58" y="1260" textLength="56" lengthAdjust="spacingAndGlyphs">Deprivation</text><text x="58" y="1275" textLength="41" lengthAdjust="spacingAndGlyphs">Loss and</text><text x="58" y="1289" textLength="40" lengthAdjust="spacingAndGlyphs">Damage</text>
<text x="58" y="1307" class="b" textLength="39" lengthAdjust="spacingAndGlyphs">Wealth</text><text x="58" y="1320" textLength="56" lengthAdjust="spacingAndGlyphs">Deprivation</text><text x="58" y="1335" textLength="41" lengthAdjust="spacingAndGlyphs">Loss and</text><text x="58" y="1348" textLength="40" lengthAdjust="spacingAndGlyphs">Damage</text>
<text x="58" y="1364" class="b" textLength="41" lengthAdjust="spacingAndGlyphs">Habitat</text><text x="58" y="1377" textLength="56" lengthAdjust="spacingAndGlyphs">Deprivation</text><text x="58" y="1392" textLength="41" lengthAdjust="spacingAndGlyphs">Loss and</text><text x="58" y="1405" textLength="40" lengthAdjust="spacingAndGlyphs">Damage</text>
<text x="153" y="1263" textLength="24" lengthAdjust="spacingAndGlyphs">To be</text><text x="153" y="1279" textLength="47" lengthAdjust="spacingAndGlyphs">estimated</text><text x="250" y="1263" textLength="24" lengthAdjust="spacingAndGlyphs">To be</text><text x="250" y="1279" textLength="47" lengthAdjust="spacingAndGlyphs">estimated</text>
<text x="157" y="1322" textLength="24" lengthAdjust="spacingAndGlyphs">To be</text><text x="157" y="1338" textLength="47" lengthAdjust="spacingAndGlyphs">estimated</text><text x="254" y="1322" textLength="24" lengthAdjust="spacingAndGlyphs">To be</text><text x="254" y="1338" textLength="47" lengthAdjust="spacingAndGlyphs">estimated</text>
<text x="160" y="1380" textLength="24" lengthAdjust="spacingAndGlyphs">To be</text><text x="160" y="1397" textLength="47" lengthAdjust="spacingAndGlyphs">estimated</text><text x="258" y="1380" textLength="24" lengthAdjust="spacingAndGlyphs">To be</text><text x="258" y="1397" textLength="47" lengthAdjust="spacingAndGlyphs">estimated</text>
</g>
<text x="12" y="1433" class="b" font-size="15.5" textLength="284" lengthAdjust="spacingAndGlyphs">Incident Impacts and Impacts Costs Matrix</text>
</g>
<g id="matrix3">
<rect x="329" y="1143" width="319" height="268" class="th"/>
<path class="th" d="M425,1143V1411M329,1221H648"/>
<path class="ln" d="M329,1269H648M329,1316H648M329,1365H648M500,1143V1411M574,1143V1411M329,1143L425,1221"/>
<g class="b" font-size="11"><text x="361" y="1156" textLength="60" lengthAdjust="spacingAndGlyphs">Displacement</text><text x="361" y="1170" textLength="31" lengthAdjust="spacingAndGlyphs">Phases</text></g>
<g class="b" font-size="11.5"><text x="331" y="1193" textLength="38" lengthAdjust="spacingAndGlyphs">Incident</text><text x="331" y="1208" textLength="36" lengthAdjust="spacingAndGlyphs">Impacts</text></g>
<g class="b m" font-size="14"><text x="463" y="1190" textLength="39" lengthAdjust="spacingAndGlyphs">Onset</text><text x="463" y="1207" textLength="40" lengthAdjust="spacingAndGlyphs">Phase</text><text x="537" y="1190" textLength="48" lengthAdjust="spacingAndGlyphs">Refuge</text><text x="537" y="1207" textLength="40" lengthAdjust="spacingAndGlyphs">Phase</text><text x="611" y="1190" textLength="57" lengthAdjust="spacingAndGlyphs">Solution</text><text x="611" y="1207" textLength="40" lengthAdjust="spacingAndGlyphs">Phase</text></g>
<g class="m" font-size="12">
<text x="374" y="1234" class="b" textLength="59" lengthAdjust="spacingAndGlyphs">Well-being</text><text x="374" y="1246" textLength="56" lengthAdjust="spacingAndGlyphs">Deprivation</text>
<text x="374" y="1283" class="b" textLength="38" lengthAdjust="spacingAndGlyphs">Wealth</text><text x="374" y="1294" textLength="56" lengthAdjust="spacingAndGlyphs">Deprivation</text>
<text x="374" y="1328" class="b" textLength="41" lengthAdjust="spacingAndGlyphs">Habitat</text><text x="374" y="1340" textLength="56" lengthAdjust="spacingAndGlyphs">Deprivation</text>
<text x="374" y="1377" class="b" textLength="76" lengthAdjust="spacingAndGlyphs">Human Rights</text><text x="374" y="1390" textLength="56" lengthAdjust="spacingAndGlyphs">Deprivation</text>
<text x="463" y="1241" textLength="52" lengthAdjust="spacingAndGlyphs">Well-being</text><text x="463" y="1252" textLength="49" lengthAdjust="spacingAndGlyphs">state to be</text><text x="463" y="1264" textLength="54" lengthAdjust="spacingAndGlyphs">determined</text>
<text x="537" y="1241" textLength="52" lengthAdjust="spacingAndGlyphs">Well-being</text><text x="537" y="1252" textLength="49" lengthAdjust="spacingAndGlyphs">state to be</text><text x="537" y="1264" textLength="54" lengthAdjust="spacingAndGlyphs">determined</text>
<text x="611" y="1241" textLength="52" lengthAdjust="spacingAndGlyphs">Well-being</text><text x="611" y="1252" textLength="49" lengthAdjust="spacingAndGlyphs">state to be</text><text x="611" y="1264" textLength="54" lengthAdjust="spacingAndGlyphs">determined</text>
<text x="463" y="1286" textLength="32.5" lengthAdjust="spacingAndGlyphs">Wealth</text><text x="463" y="1298" textLength="49" lengthAdjust="spacingAndGlyphs">state to be</text><text x="463" y="1310" textLength="54" lengthAdjust="spacingAndGlyphs">determined</text>
<text x="537" y="1286" textLength="32.5" lengthAdjust="spacingAndGlyphs">Wealth</text><text x="537" y="1298" textLength="49" lengthAdjust="spacingAndGlyphs">state to be</text><text x="537" y="1310" textLength="54" lengthAdjust="spacingAndGlyphs">determined</text>
<text x="611" y="1286" textLength="32.5" lengthAdjust="spacingAndGlyphs">Wealth</text><text x="611" y="1298" textLength="49" lengthAdjust="spacingAndGlyphs">state to be</text><text x="611" y="1310" textLength="54" lengthAdjust="spacingAndGlyphs">determined</text>
<text x="463" y="1333" textLength="34" lengthAdjust="spacingAndGlyphs">Habitat</text><text x="463" y="1346" textLength="49" lengthAdjust="spacingAndGlyphs">state to be</text><text x="463" y="1358" textLength="54" lengthAdjust="spacingAndGlyphs">determined</text>
<text x="537" y="1333" textLength="34" lengthAdjust="spacingAndGlyphs">Habitat</text><text x="537" y="1346" textLength="49" lengthAdjust="spacingAndGlyphs">state to be</text><text x="537" y="1358" textLength="54" lengthAdjust="spacingAndGlyphs">determined</text>
<text x="611" y="1333" textLength="34" lengthAdjust="spacingAndGlyphs">Habitat</text><text x="611" y="1346" textLength="49" lengthAdjust="spacingAndGlyphs">state to be</text><text x="611" y="1358" textLength="54" lengthAdjust="spacingAndGlyphs">determined</text>
<text x="463" y="1380.5" textLength="65.5" lengthAdjust="spacingAndGlyphs">Human Rights</text><text x="463" y="1393" textLength="49" lengthAdjust="spacingAndGlyphs">state to be</text><text x="463" y="1405" textLength="54" lengthAdjust="spacingAndGlyphs">determined</text>
<text x="537" y="1380.5" textLength="65.5" lengthAdjust="spacingAndGlyphs">Human Rights</text><text x="537" y="1393" textLength="49" lengthAdjust="spacingAndGlyphs">state to be</text><text x="537" y="1405" textLength="54" lengthAdjust="spacingAndGlyphs">determined</text>
<text x="611" y="1380.5" textLength="65.5" lengthAdjust="spacingAndGlyphs">Human Rights</text><text x="611" y="1393" textLength="49" lengthAdjust="spacingAndGlyphs">state to be</text><text x="611" y="1405" textLength="54" lengthAdjust="spacingAndGlyphs">determined</text>
</g>
<text x="328" y="1433" class="b" font-size="15.5" textLength="320" lengthAdjust="spacingAndGlyphs">Incident Impacts and Displacement Phases Matrix</text>
</g>
</g>

</g>
</svg>
